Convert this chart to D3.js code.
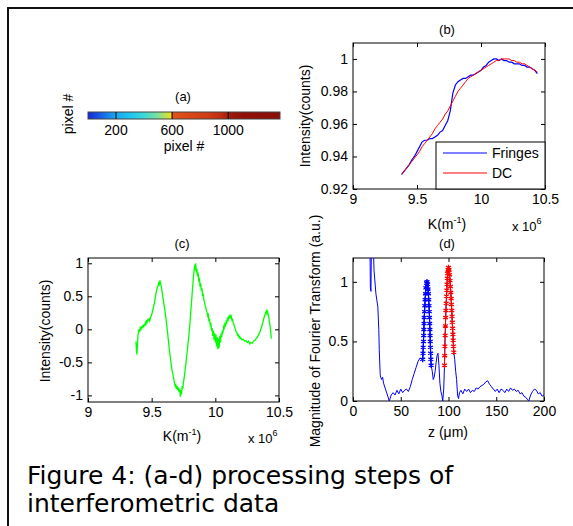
<!DOCTYPE html>
<html>
<head>
<meta charset="utf-8">
<script src="https://cdn.jsdelivr.net/npm/d3@7"></script>
<style>
body { margin: 0; background: #fff; }
text { font-family: "Liberation Sans", Arial, sans-serif; fill: #000; }
text.caption { font-family: "DejaVu Sans", Verdana, sans-serif; }
</style>
</head>
<body>
<script>
// ---- data ----

// (a) colour bar: pixel index -> colour
const pixelStops  = [1, 100, 200, 300, 400, 500, 590, 605, 700, 850, 950, 1000, 1100, 1368];
const pixelColors = ["#1428d8", "#1864e8", "#18a8f0", "#20c4f0", "#3cd8d8", "#80e098", "#e8e020",
                     "#e05418", "#dc4818", "#d03c14", "#c02c10", "#a01a0c", "#901008", "#8c0c08"];
const pixelTicks = [200, 600, 1000];

// (b) raw spectrum and its DC part, K in units of 1e6 m^-1
const kSpec = [9.38, 9.40, 9.42, 9.44, 9.46, 9.48, 9.50, 9.52, 9.54, 9.56, 9.58, 9.60, 9.62, 9.64,
               9.66, 9.68, 9.70, 9.72, 9.74, 9.76, 9.78, 9.80, 9.82, 9.84, 9.86, 9.88, 9.90, 9.92,
               9.94, 9.96, 9.98, 10.00, 10.02, 10.04, 10.06, 10.08, 10.10, 10.12, 10.14, 10.16,
               10.18, 10.20, 10.22, 10.24, 10.26, 10.28, 10.30, 10.32, 10.34, 10.36, 10.38, 10.40,
               10.42, 10.44];
const fringes = [0.929, 0.931, 0.933, 0.935, 0.938, 0.940, 0.943, 0.946, 0.949, 0.950, 0.950, 0.951,
                 0.951, 0.952, 0.953, 0.955, 0.956, 0.959, 0.962, 0.968, 0.979, 0.984, 0.986, 0.987,
                 0.988, 0.988, 0.989, 0.990, 0.990, 0.991, 0.992, 0.993, 0.995, 0.996, 0.998, 0.999,
                 1.000, 1.000, 0.999, 1.000, 0.999, 0.999, 0.998, 0.998, 0.997, 0.997, 0.997, 0.996,
                 0.996, 0.995, 0.995, 0.994, 0.993, 0.991];
const dc = [0.929, 0.931, 0.933, 0.935, 0.937, 0.939, 0.941, 0.943, 0.946, 0.948, 0.950, 0.952,
            0.954, 0.957, 0.959, 0.961, 0.963, 0.966, 0.968, 0.971, 0.974, 0.977, 0.980, 0.982,
            0.984, 0.986, 0.988, 0.989, 0.990, 0.991, 0.992, 0.993, 0.994, 0.995, 0.996, 0.997,
            0.998, 0.999, 0.999, 1.000, 1.000, 1.000, 1.000, 0.999, 0.999, 0.998, 0.998, 0.997,
            0.997, 0.996, 0.995, 0.994, 0.993, 0.992];

// (c) fringe signal after DC removal
const kSig = [9.377, 9.380, 9.384, 9.388, 9.392, 9.396, 9.400, 9.405, 9.410, 9.415, 9.420, 9.425,
              9.430, 9.435, 9.440, 9.445, 9.450, 9.455, 9.460, 9.465, 9.470, 9.475, 9.480, 9.485,
              9.490, 9.495, 9.500, 9.505, 9.510, 9.515, 9.520, 9.525, 9.530, 9.535, 9.540, 9.545,
              9.550, 9.555, 9.560, 9.565, 9.570, 9.575, 9.580, 9.585, 9.590, 9.595, 9.600, 9.605,
              9.610, 9.615, 9.620, 9.625, 9.630, 9.635, 9.640, 9.645, 9.650, 9.655, 9.660, 9.665,
              9.670, 9.675, 9.680, 9.685, 9.690, 9.695, 9.700, 9.705, 9.710, 9.715, 9.720, 9.725,
              9.730, 9.735, 9.740, 9.745, 9.750, 9.755, 9.760, 9.765, 9.770, 9.775, 9.780, 9.785,
              9.790, 9.795, 9.800, 9.805, 9.810, 9.815, 9.820, 9.825, 9.830, 9.835, 9.840, 9.843,
              9.846, 9.850, 9.855, 9.860, 9.865, 9.870, 9.875, 9.880, 9.885, 9.890, 9.895, 9.900,
              9.905, 9.910, 9.915, 9.920, 9.925, 9.930, 9.935, 9.940, 9.945, 9.950, 9.955, 9.960,
              9.965, 9.970, 9.975, 9.980, 9.985, 9.990, 9.995, 10.000, 10.005, 10.010, 10.015,
              10.020, 10.025, 10.030, 10.035, 10.040, 10.045, 10.050, 10.055, 10.060, 10.065,
              10.070, 10.075, 10.080, 10.085, 10.090, 10.095, 10.100, 10.105, 10.110, 10.115,
              10.120, 10.125, 10.130, 10.135, 10.140, 10.145, 10.150, 10.155, 10.160, 10.165,
              10.170, 10.175, 10.180, 10.185, 10.190, 10.195, 10.200, 10.210, 10.220, 10.230,
              10.240, 10.250, 10.260, 10.270, 10.280, 10.290, 10.300, 10.310, 10.320, 10.330,
              10.340, 10.350, 10.360, 10.370, 10.380, 10.390, 10.400, 10.405, 10.410, 10.420,
              10.430, 10.435, 10.440];
const signal = [-0.18, -0.30, -0.38, -0.25, -0.10, -0.05, 0.00, -0.04, 0.02, 0.00, 0.05, 0.01,
                0.06, 0.03, 0.08, 0.05, 0.10, 0.08, 0.14, 0.11, 0.15, 0.14, 0.16, 0.13,
                0.17, 0.20, 0.22, 0.26, 0.30, 0.35, 0.38, 0.44, 0.50, 0.55, 0.60, 0.63,
                0.66, 0.70, 0.68, 0.74, 0.70, 0.65, 0.60, 0.52, 0.46, 0.40, 0.34, 0.28,
                0.20, 0.12, 0.04, -0.05, -0.14, -0.24, -0.32, -0.40, -0.48, -0.55, -0.62, -0.66,
                -0.72, -0.76, -0.82, -0.86, -0.84, -0.90, -0.86, -0.92, -0.88, -0.95, -0.90, -1.02,
                -0.92, -0.98, -0.86, -0.90, -0.80, -0.74, -0.66, -0.58, -0.50, -0.40, -0.32, -0.22,
                -0.14, -0.04, 0.08, 0.20, 0.34, 0.46, 0.60, 0.72, 0.84, 0.92, 0.98, 0.90,
                1.00, 0.86, 0.92, 0.80, 0.86, 0.72, 0.78, 0.64, 0.70, 0.58, 0.62, 0.50,
                0.54, 0.44, 0.42, 0.36, 0.34, 0.28, 0.26, 0.20, 0.22, 0.12, 0.16, 0.06,
                0.08, -0.02, 0.02, -0.10, -0.02, -0.16, -0.06, -0.20, -0.08, -0.26, -0.12,
                -0.30, -0.14, -0.28, -0.10, -0.20, -0.06, -0.12, -0.02, -0.06, 0.04,
                0.02, 0.08, 0.06, 0.12, 0.10, 0.16, 0.14, 0.19, 0.18, 0.21,
                0.18, 0.20, 0.14, 0.15, 0.10, 0.08, 0.04, 0.02, -0.02, -0.04,
                -0.06, -0.09, -0.08, -0.12, -0.11, -0.14, -0.13, -0.16, -0.15, -0.18,
                -0.17, -0.20, -0.18, -0.22, -0.20, -0.21, -0.18, -0.17, -0.14, -0.12,
                -0.08, -0.04, 0.02, 0.08, 0.16, 0.22, 0.28, 0.24, 0.27, 0.18,
                0.05, -0.05, -0.14];

// (d) Fourier transform magnitude, z in um
const zFFT = [17.5, 18.2, 18.8, 19.5, 21, 22, 24, 26, 27, 27.5, 28.5, 29, 30, 31, 32, 34, 36, 38,
              40, 42, 44, 46, 48, 50, 52, 54, 56, 58, 60, 62, 64, 66, 68, 70, 72,
              83, 84, 85, 86, 87, 88, 89, 90, 91, 92, 93, 94, 95,
              106.5, 107.5, 108.5, 109.5, 110.5, 111.5, 113, 115, 117, 119, 121, 123, 125, 127,
              129, 131, 133, 135, 137, 139, 141, 143, 145, 147, 149, 151, 153, 155, 157, 159,
              161, 163, 165, 167, 169, 171, 173, 175, 177, 179, 181, 183, 184, 186, 188, 190,
              192, 194, 196, 198, 200];
const fftMag = [1.5, 0.95, 0.92, 1.5, 1.4, 1.1, 0.9, 0.79, 0.6, 0.43, 0.22, 0.2, 0.18, 0.2, 0.15,
                0.1, 0.05, 0.0, 0.05, 0.07, 0.05, 0.09, 0.06, 0.1, 0.07, 0.09, 0.1, 0.08, 0.12,
                0.18, 0.23, 0.28, 0.33, 0.36, 0.35,
                0.25, 0.18, 0.2, 0.25, 0.32, 0.38, 0.4, 0.3, 0.15, 0.08, 0.05, 0.0, 0.1,
                0.35, 0.25, 0.18, 0.05, 0.02, 0.07, 0.09, 0.06, 0.1, 0.08, 0.1, 0.07, 0.09, 0.08,
                0.11, 0.1, 0.12, 0.13, 0.14, 0.16, 0.17, 0.14, 0.12, 0.1, 0.08, 0.1, 0.07, 0.1,
                0.09, 0.07, 0.1, 0.08, 0.11, 0.09, 0.1, 0.08, 0.09, 0.06, 0.07, 0.04, 0.03, 0.01,
                0.0, 0.05, 0.08, 0.1, 0.09, 0.06, 0.07, 0.04, 0.05];
// selected peaks
const zPeak1 = [73, 73.3, 73.5, 73.8, 74, 74.2, 74.4, 74.6, 74.9, 75.2, 75.5, 75.9, 76.3, 77, 77.5,
                78.2, 78.6, 79, 79.3, 79.6, 79.9, 80.1, 80.3, 80.5, 80.7, 80.9, 81.1, 81.3, 81.5, 81.8];
const peak1 = [0.35, 0.40, 0.45, 0.50, 0.55, 0.60, 0.65, 0.70, 0.75, 0.80, 0.85, 0.90, 0.95, 0.99, 1.00,
               0.98, 0.94, 0.90, 0.85, 0.80, 0.75, 0.70, 0.65, 0.60, 0.55, 0.50, 0.45, 0.40, 0.35, 0.30];
const zPeak2 = [95.8, 96, 96.2, 96.5, 96.8, 97, 97.3, 97.6, 97.9, 98.2, 98.5, 98.8, 99.1, 99.5, 100,
                100.6, 101.1, 101.6, 102, 102.4, 102.8, 103.1, 103.4, 103.7, 104, 104.3, 104.6,
                104.9, 105.2, 105.5];
const peak2 = [0.30, 0.38, 0.46, 0.55, 0.63, 0.70, 0.76, 0.82, 0.88, 0.93, 0.98, 1.03, 1.07, 1.10, 1.12,
               1.10, 1.06, 1.01, 0.96, 0.91, 0.86, 0.81, 0.76, 0.71, 0.66, 0.61, 0.56, 0.51, 0.46, 0.41];

const kTicks = [9, 9.5, 10, 10.5];
const bYTicks = [0.92, 0.94, 0.96, 0.98, 1];
const cYTicks = [-1, -0.5, 0, 0.5, 1];
const dXTicks = [0, 50, 100, 150, 200];
const dYTicks = [0, 0.5, 1];

// ---- canvas ----
const canvWidth = 573, canvHeight = 526;
const svg = d3.select("body").append("svg")
    .attr("width", canvWidth)
    .attr("height", canvHeight);

svg.append("rect").attr("width", canvWidth).attr("height", canvHeight).attr("fill", "#fff");

// frame (top and left edge only)
svg.append("path")
    .attr("d", "M8,526 V8 H573")
    .attr("fill", "none")
    .attr("stroke", "#111")
    .attr("stroke-width", 2);

const fmt = d => String(+d.toFixed(2));

// draws a boxed MATLAB-style axes, ticks pointing in
function makeAxes(id, box, xDomain, yDomain, xTicks, yTicks) {
    const x = d3.scaleLinear().domain(xDomain).range([0, box.w]);
    const y = d3.scaleLinear().domain(yDomain).range([box.h, 0]);
    const g = svg.append("g").attr("transform", "translate(" + box.x + "," + box.y + ")");

    svg.append("clipPath").attr("id", id)
        .append("rect").attr("width", box.w).attr("height", box.h);

    const sides = [
        [d3.axisBottom(x).tickValues(xTicks).tickFormat(fmt), "translate(0," + box.h + ")"],
        [d3.axisTop(x).tickValues(xTicks).tickFormat(""), "translate(0,0)"],
        [d3.axisLeft(y).tickValues(yTicks).tickFormat(fmt), "translate(0,0)"],
        [d3.axisRight(y).tickValues(yTicks).tickFormat(""), "translate(" + box.w + ",0)"]
    ];
    sides.forEach(([ax, tr]) => {
        const a = g.append("g").attr("transform", tr)
            .call(ax.tickSizeInner(-4).tickSizeOuter(0).tickPadding(5));
        a.attr("font-size", 14).attr("font-family", null);
        a.select(".domain").remove();
        a.selectAll("line").attr("stroke", "#000");
    });

    g.append("rect")
        .attr("width", box.w).attr("height", box.h)
        .attr("fill", "none").attr("stroke", "#000").attr("stroke-width", 1);

    const plot = g.append("g").attr("clip-path", "url(#" + id + ")");
    return {g, plot, x, y};
}

function label(txt, x, y, size, rotate) {
    const t = svg.append("text")
        .attr("text-anchor", "middle")
        .attr("font-size", size)
        .attr("transform", "translate(" + x + "," + y + ")" + (rotate ? " rotate(-90)" : ""));
    t.text(txt);
    return t;
}

function kLabel(cx, baseline) {
    const t = svg.append("text").attr("x", cx).attr("y", baseline)
        .attr("text-anchor", "middle").attr("font-size", 14);
    t.append("tspan").text("K(m");
    t.append("tspan").attr("font-size", 9).attr("dy", -6).text("-1");
    t.append("tspan").attr("dy", 6).text(")");
}

function expLabel(x, baseline) {
    const t = svg.append("text").attr("x", x).attr("y", baseline).attr("font-size", 13);
    t.append("tspan").text("x 10");
    t.append("tspan").attr("font-size", 9).attr("dy", -7).text("6");
}

// ---- (a) colour bar ----
const barBox = {x0: 88, x1: 280, y0: 112, y1: 119};
const xPix = d3.scaleLinear().domain([0.5, 1368.5]).range([barBox.x0, barBox.x1]);
const pixColor = d3.scaleLinear().domain(pixelStops).range(pixelColors);

const grad = svg.append("defs").append("linearGradient")
    .attr("id", "pixgrad").attr("x1", "0%").attr("x2", "100%");
grad.selectAll("stop")
    .data(pixelStops)
    .join("stop")
    .attr("offset", d => ((xPix(d) - barBox.x0) / (barBox.x1 - barBox.x0) * 100) + "%")
    .attr("stop-color", d => pixColor(d));

svg.append("rect")
    .attr("x", barBox.x0).attr("y", barBox.y0)
    .attr("width", barBox.x1 - barBox.x0).attr("height", barBox.y1 - barBox.y0)
    .attr("fill", "url(#pixgrad)")
    .attr("stroke", "#444").attr("stroke-width", 1);

svg.selectAll(".pixtick")
    .data(pixelTicks)
    .join("line")
    .attr("x1", d => xPix(d)).attr("x2", d => xPix(d))
    .attr("y1", barBox.y0).attr("y2", barBox.y1)
    .attr("stroke", "#000");

svg.selectAll(".pixlab")
    .data(pixelTicks)
    .join("text")
    .attr("x", d => xPix(d)).attr("y", 135)
    .attr("text-anchor", "middle").attr("font-size", 14)
    .text(d => d);

label("(a)", 183, 101, 13);
label("pixel #", 184, 151, 14);
label("pixel #", 73, 114, 14, true);

// ---- (b) spectrum + DC ----
const B = makeAxes("clipB", {x: 353, y: 43, w: 192, h: 146}, [9, 10.5], [0.92, 1.0098], kTicks, bYTicks);
const lineB = d3.line().x(d => B.x(d[0])).y(d => B.y(d[1]));
B.plot.append("path")
    .datum(d3.zip(kSpec, fringes))
    .attr("d", lineB).attr("fill", "none").attr("stroke", "#0000ff").attr("stroke-width", 1.2);
B.plot.append("path")
    .datum(d3.zip(kSpec, dc))
    .attr("d", lineB).attr("fill", "none").attr("stroke", "#ff0000").attr("stroke-width", 1);

// legend
const legend = B.g.append("g").attr("transform", "translate(" + (436 - 353) + "," + (142 - 43) + ")");
legend.append("rect").attr("width", 109).attr("height", 47)
    .attr("fill", "#fff").attr("stroke", "#000");
const legendItems = [["Fringes", "#0000ff"], ["DC", "#ff0000"]];
legend.selectAll("line")
    .data(legendItems)
    .join("line")
    .attr("x1", 7).attr("x2", 51)
    .attr("y1", (d, i) => 11 + i * 20).attr("y2", (d, i) => 11 + i * 20)
    .attr("stroke", d => d[1]);
legend.selectAll("text")
    .data(legendItems)
    .join("text")
    .attr("x", 56).attr("y", (d, i) => 16 + i * 20)
    .attr("font-size", 14)
    .text(d => d[0]);

label("(b)", 447, 34, 13);
kLabel(447, 229);
expLabel(512, 231);
label("Intensity(counts)", 310, 116, 14, true);

// ---- (c) fringe signal ----
const C = makeAxes("clipC", {x: 88, y: 258, w: 191, h: 144}, [9, 10.5], [-1.1, 1.08], kTicks, cYTicks);
C.plot.append("path")
    .datum(d3.zip(kSig, signal))
    .attr("d", d3.line().x(d => C.x(d[0])).y(d => C.y(d[1])))
    .attr("fill", "none").attr("stroke", "#00ff00").attr("stroke-width", 1.3);

label("(c)", 182, 248, 13);
kLabel(182, 441);
expLabel(248, 443);
label("Intensity(counts)", 50, 331, 14, true);

// ---- (d) Fourier transform ----
const D = makeAxes("clipD", {x: 353, y: 258, w: 191, h: 143}, [0, 200], [0, 1.2], dXTicks, dYTicks);
const lineD = d3.line().x(d => D.x(d[0])).y(d => D.y(d[1]));
const fftAll = d3.sort(d3.merge([d3.zip(zFFT, fftMag), d3.zip(zPeak1, peak1), d3.zip(zPeak2, peak2)]), d => d[0]);
D.plot.append("path")
    .datum(fftAll)
    .attr("d", lineD).attr("fill", "none").attr("stroke", "#0000ff").attr("stroke-width", 1);

const peaks = [[d3.zip(zPeak1, peak1), "#0000ff"], [d3.zip(zPeak2, peak2), "#ff0000"]];
const star = d3.symbol().type(d3.symbolAsterisk).size(22);
peaks.forEach(([pts, col]) => {
    D.plot.append("path").datum(pts)
        .attr("d", lineD).attr("fill", "none").attr("stroke", col).attr("stroke-width", 1);
    D.plot.append("g").selectAll("path")
        .data(pts)
        .join("path")
        .attr("transform", d => "translate(" + D.x(d[0]) + "," + D.y(d[1]) + ")")
        .attr("d", star)
        .attr("fill", "none").attr("stroke", col).attr("stroke-width", 1.3);
});

label("(d)", 447, 248, 13);
label("z (\u03bcm)", 448, 437, 14);
label("Magnitude of Fourier Transform (a.u.)", 320, 331, 14, true);

// ---- caption ----
const caption = ["Figure 4: (a-d) processing steps of", "interferometric data"];
svg.selectAll(".caption")
    .data(caption)
    .join("text")
    .attr("class", "caption")
    .attr("x", 27)
    .attr("y", (d, i) => 484 + i * 28)
    .attr("font-size", 25)
    .text(d => d);
</script>
</body>
</html>
